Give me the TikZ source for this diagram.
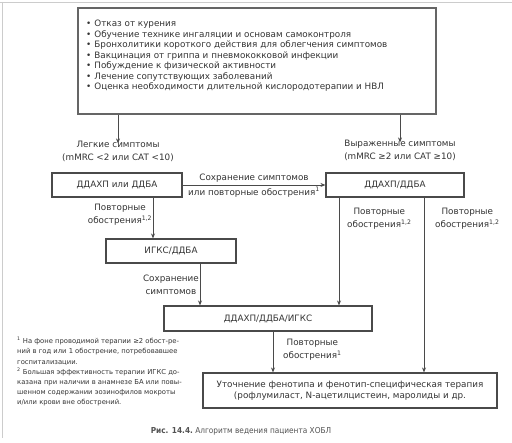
\documentclass[tikz,border=0pt]{standalone}
\usepackage{fontspec}
\setmainfont{DejaVu Sans}
\newfontfamily\condfont{DejaVu Sans Condensed}
\usetikzlibrary{arrows.meta}
\definecolor{txt}{HTML}{333333}
\definecolor{ln}{HTML}{4A4A4A}
\definecolor{framec}{HTML}{CCCCCC}
\begin{document}
\begin{tikzpicture}[x=1pt,y=-1pt,
  every node/.style={text=txt, font=\fontsize{8.8}{10.5}\selectfont, inner sep=0pt},
  box/.style={draw=ln, line width=1.1pt, rectangle, align=center},
  arr/.style={draw=ln, line width=0.9pt, -{Stealth[length=5pt,width=4pt]}},
  lbl/.style={align=center, font=\fontsize{8.8}{13.2}\selectfont},
  fn/.style={align=left, font=\fontsize{6.8}{10.2}\selectfont, text=txt}]
\useasboundingbox (0,0) rectangle (512,443);
\draw[framec, line width=0.8pt] (0,2) -- (512,2);
\draw[framec, line width=0.8pt] (2,2) -- (2,438);

% top box
\node[box, draw=ln!85, line width=1.4pt, minimum width=358pt, minimum height=106pt] (top) at (257,61) {};
\node[anchor=north west, align=left] (list) at (86,20) {%
•\hspace{3pt}Отказ от курения\\
•\hspace{3pt}Обучение технике ингаляции и основам самоконтроля\\
•\hspace{3pt}Бронхолитики короткого действия для облегчения симптомов\\
•\hspace{3pt}Вакцинация от гриппа и пневмококковой инфекции\\
•\hspace{3pt}Побуждение к физической активности\\
•\hspace{3pt}Лечение сопутствующих заболеваний\\
•\hspace{3pt}Оценка необходимости длительной кислородотерапии и НВЛ};

% symptom labels
\node[lbl] (mild) at (118,151) {Легкие симптомы\\(mMRC <2 или CAT <10)};
\node[lbl] (severe) at (400,150) {Выраженные симптомы\\(mMRC ≥2 или CAT ≥10)};
\draw[arr] (mild.north |- top.south) -- ([yshift=-3pt]mild.north);
\draw[arr] (severe.north |- top.south) -- ([yshift=-3pt]severe.north);

% boxes
\node[box, minimum width=130pt, minimum height=24pt] (b1) at (117,185) {ДДАХП или ДДБА};
\node[box, minimum width=138pt, minimum height=24pt] (b2) at (395,185) {ДДАХП/ДДБА};
\node[box, minimum width=130pt, minimum height=24pt] (b3) at (171,251) {ИГКС/ДДБА};
\node[box, minimum width=208pt, minimum height=25pt] (b4) at (268,318.5) {ДДАХП/ДДБА/ИГКС};
\node[box, minimum width=294pt, minimum height=35pt, font=\fontsize{8.8}{11.5}\selectfont] (b5) at (350,390.5) {Уточнение фенотипа и фенотип-специфическая терапия\\(рофлумиласт, N-ацетилцистеин, маролиды и др.};

% b1 -> b2
\draw[arr] (b1.east) -- (b2.west);
\node[anchor=south] (l12a) at (254,183) {Сохранение симптомов};
\node[anchor=north] (l12b) at (254,187) {или повторные обострения\textsuperscript{1}};

% b1 -> b3
\coordinate (c13) at (153,185);
\draw[arr] (c13 |- b1.south) -- (c13 |- b3.north);
\node[lbl] (l13) at (120,215) {Повторные\\обострения\textsuperscript{1,2}};

% b3 -> b4
\coordinate (c34) at (200,250);
\draw[arr] (c34 |- b3.south) -- (c34 |- b4.north);
\node[lbl, anchor=east] (l34) at (199,285) {Сохранение\\симптомов};

% b2 -> b4
\coordinate (c24) at (339,185);
\draw[arr] (c24 |- b2.south) -- (c24 |- b4.north);
\node[lbl, anchor=west] (l24) at (347,219) {Повторные\\обострения\textsuperscript{1,2}};

% b2 -> b5
\coordinate (c25) at (424,185);
\draw[arr] (c25 |- b2.south) -- (c25 |- b5.north);
\node[lbl, anchor=west] (l25) at (435,219) {Повторные\\обострения\textsuperscript{1,2}};

% b4 -> b5
\coordinate (c45) at (273,318);
\draw[arr] (c45 |- b4.south) -- (c45 |- b5.north);
\node[lbl, anchor=west] (l45) at (283,350) {Повторные\\обострения\textsuperscript{1}};

% footnotes
\node[fn, anchor=north west] (fn) at (17,337) {%
\textsuperscript{1} На фоне проводимой терапии ≥2 обост-ре-\\
ний в год или 1 обострение, потребовавшее\\
госпитализации.\\
\textsuperscript{2} Большая эффективность терапии ИГКС до-\\
казана при наличии в анамнезе БА или повы-\\
шенном содержании эозинофилов мокроты\\
и/или крови вне обострений.};

% caption
\node[text=txt!85!white, font=\condfont\fontsize{8.2}{10}\selectfont] (cap) at (241,431) {\bfseries Рис. 14.4.\mdseries\ Алгоритм ведения пациента ХОБЛ};
\end{tikzpicture}
\end{document}
